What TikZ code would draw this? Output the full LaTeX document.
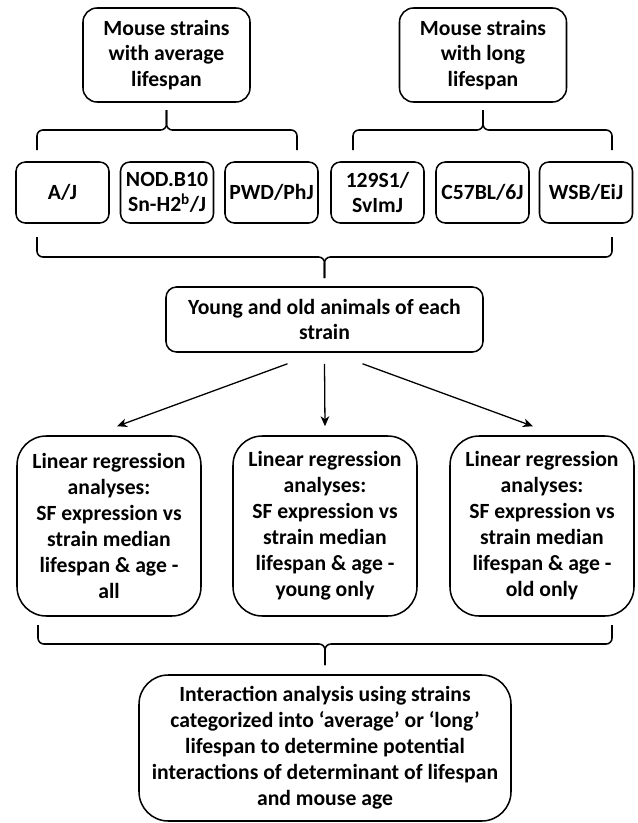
\documentclass[tikz,border=0pt]{standalone}
\usepackage{fontspec}
\setmainfont{Carlito}
\usetikzlibrary{arrows.meta, calc}

\tikzset{
  box/.style={draw, line width=1.3pt, align=center, inner sep=0pt,
    font=\fontsize{18.5}{21.5}\selectfont\bfseries},
  groupbox/.style={box, rounded corners=12pt, minimum width=50.1mm, minimum height=28.2mm},
  strainbox/.style={box, rounded corners=8pt, minimum width=27.9mm, minimum height=18.3mm},
  poolbox/.style={box, rounded corners=9pt, minimum width=95.1mm, minimum height=19.5mm},
  regbox/.style={box, rounded corners=25pt, minimum width=55.2mm, minimum height=54mm,
    font=\fontsize{18.5}{22.2}\selectfont\bfseries},
  finalbox/.style={box, rounded corners=25pt, minimum width=111.6mm, minimum height=43.8mm,
    font=\fontsize{18.5}{22.2}\selectfont\bfseries},
  brace/.style={line width=1.3pt, rounded corners=5pt},
  arr/.style={line width=1.1pt, -{Stealth[length=3mm, width=2.6mm, inset=0.9mm]}}
}

\begin{document}
\begin{tikzpicture}[x=0.3mm, y=-0.3mm]
  \useasboundingbox (0,0) rectangle (637,823);
  % lifespan groups
  \node[groupbox] (avg) at (166.5,55) {Mouse strains\\with average\\lifespan};
  \node[groupbox] (long) at (483,55) {Mouse strains\\with long\\lifespan};
  % strains
  \node[strainbox] (aj) at (62.5,192.5) {A/J};
  \node[strainbox] (nod) at (167,192.5) {NOD.B10\\Sn-H2\textsuperscript{b}/J};
  \node[strainbox] (pwd) at (271.5,192.5) {PWD/PhJ};
  \node[strainbox] (sv) at (377.5,192.5) {129S1/\\SvImJ};
  \node[strainbox] (bl) at (482.5,192.5) {C57BL/6J};
  \node[strainbox] (wsb) at (586,192.5) {WSB/EiJ};
  % braces under the groups
  \draw[brace] (37,150) |- (166.5,130) -- (avg.south |- 0,110);
  \draw[brace] (297,150) |- (166.5,130) -- (avg.south |- 0,110);
  \draw[brace] (353,150) |- (483,130) -- (long.south |- 0,110);
  \draw[brace] (612,150) |- (483,130) -- (long.south |- 0,110);
  % all strains
  \node[poolbox] (pool) at (324.5,319.5) {Young and old animals of each\\strain};
  \draw[brace] (37,237) |- (324.5,257) -- (pool.north |- 0,278);
  \draw[brace] (612,237) |- (324.5,257) -- (pool.north |- 0,278);
  % regressions
  \node[regbox] (all) at (109,526) {Linear regression\\analyses:\\SF expression vs\\strain median\\lifespan \& age -\\all};
  \node[regbox] (young) at (325,526) {Linear regression\\analyses:\\SF expression vs\\strain median\\lifespan \& age -\\young only};
  \node[regbox] (old) at (542,526) {Linear regression\\analyses:\\SF expression vs\\strain median\\lifespan \& age -\\old only};
  \draw[arr] ($(pool.south)+(-37,11)$) -- ($(all.north)+(8,-9)$);
  \draw[arr] ($(pool.south)+(0,11)$) -- ($(young.north)+(0,-9)$);
  \draw[arr] ($(pool.south)+(38,11)$) -- ($(old.north)+(-9,-9)$);
  % interaction
  \node[finalbox] (inter) at (325,748) {Interaction analysis using strains\\categorized into ‘average’ or ‘long’\\lifespan to determine potential\\interactions of determinant of lifespan\\and mouse age};
  \draw[brace] (38,625) |- (325,644) -- (inter.north |- 0,665);
  \draw[brace] (612,625) |- (325,644) -- (inter.north |- 0,665);
\end{tikzpicture}
\end{document}
